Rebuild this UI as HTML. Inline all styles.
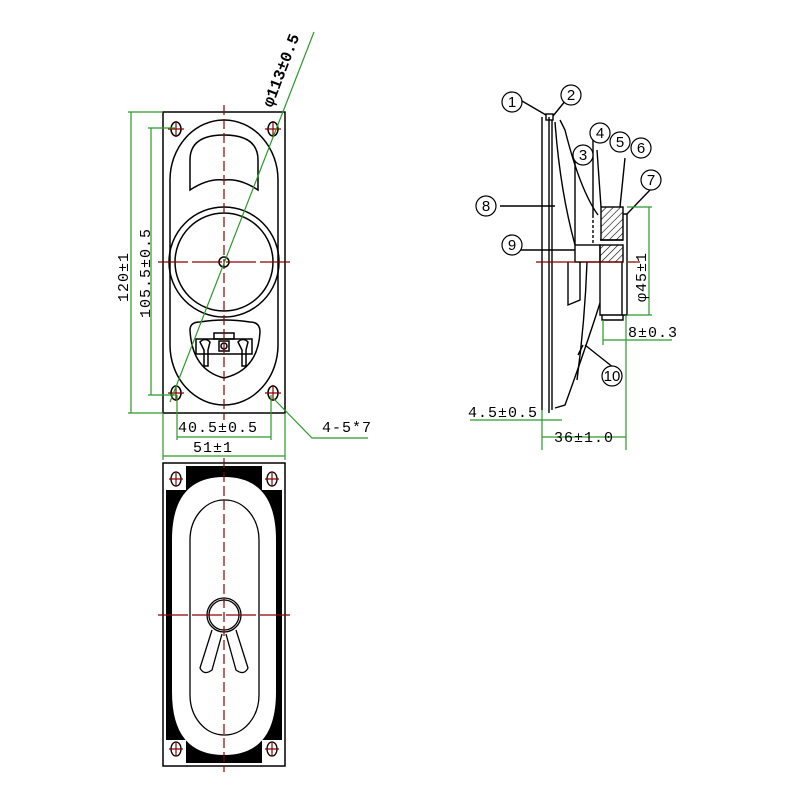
<!DOCTYPE html>
<html><head><style>html,body{margin:0;padding:0;background:#fff}svg{display:block}</style></head>
<body>
<svg width="800" height="800" viewBox="0 0 800 800" xmlns="http://www.w3.org/2000/svg" font-family="Liberation Mono, monospace">
<defs>
<pattern id="h" width="5" height="5" patternUnits="userSpaceOnUse" patternTransform="rotate(45)"><line x1="0" y1="0" x2="0" y2="5" stroke="#000" stroke-width="1.2"/></pattern>
</defs>
<g fill="none" stroke="#000" stroke-width="1.5">
<rect x="163" y="112" width="122" height="301"/>
<rect x="170" y="120" width="108" height="285" rx="54" ry="60"/>
<path d="M190 190 L190 160 Q190 135 224 135 Q258 135 258 160 L258 190 Q240 178 224 180 Q208 178 190 190 Z"/>
<circle cx="224" cy="262" r="55"/>
<circle cx="224" cy="262" r="49"/>
<circle cx="224" cy="262" r="5"/>
<path d="M190 330 Q190 322 200 322 Q224 318 250 322 Q260 322 260 332 Q258 370 224 378 Q192 370 190 330 Z"/>
<rect x="196" y="339" width="56" height="15"/>
<rect x="214" y="333" width="20" height="6"/>
<rect x="219" y="341" width="10" height="10"/>
<circle cx="224" cy="346" r="3"/>
<path d="M200 342 Q205 337 210 342 L208 350 L208 366 L204 366 L204 350 Z"/>
<path d="M238 342 Q243 337 248 342 L246 350 L246 366 L242 366 L242 350 Z"/>
<ellipse cx="176" cy="129" rx="5" ry="7"/><ellipse cx="273" cy="129" rx="5" ry="7"/>
<ellipse cx="176" cy="393" rx="5" ry="7"/><ellipse cx="273" cy="393" rx="5" ry="7"/>
</g>
<g stroke="#8b0000" stroke-width="1.2" fill="none">
<line x1="224" y1="105" x2="224" y2="420" stroke-dasharray="10,4"/>
<line x1="158" y1="262" x2="292" y2="262" stroke-dasharray="30,4"/>
<path d="M168 129h16M176 121v16M265 129h16M273 121v16M168 393h16M176 385v16M265 393h16M273 385v16"/>
</g>
<g stroke="#2a9a2a" stroke-width="1.2" fill="none">
<path d="M128 112H163M128 413H163M131 112V413"/>
<path d="M148 128H176M148 395H176M151 128V395"/>
<path d="M177 395V440M271 395V440M177 437H271"/>
<path d="M163 413V460M285 413V460M163 456H285"/>
<line x1="170" y1="402" x2="314" y2="32"/>
<path d="M273 398 L312 438 H368"/>
</g>
<g font-size="15" fill="#000">
<text x="0" y="0" transform="translate(128 302) rotate(-90)" letter-spacing="1">120±1</text>
<text x="0" y="0" transform="translate(150 318) rotate(-90)" letter-spacing="1">105.5±0.5</text>
<text x="178" y="432" letter-spacing="1">40.5±0.5</text>
<text x="193" y="452" letter-spacing="1">51±1</text>
<text x="322" y="432" letter-spacing="1">4-5*7</text>
<text x="0" y="0" transform="translate(272 108) rotate(-69)" font-weight="bold" font-size="16">φ113±0.5</text>
</g>
<rect x="163" y="463" width="122" height="303" fill="none" stroke="#000" stroke-width="1.5"/>
<path fill="#000" fill-rule="evenodd" d="M186 466H262V490H282V740H262V763H186V740H166V490H186Z M172 540 Q172 477 224 477 Q276 477 276 540 V692 Q276 755 224 755 Q172 755 172 692 Z"/>
<g fill="none" stroke="#000" stroke-width="1.3">
<rect x="190" y="500" width="69" height="235" rx="34" ry="40"/>
<circle cx="224" cy="615" r="17"/><circle cx="224" cy="615" r="15"/>
<path d="M212 630 L200 668 Q204 676 212 670 L222 634"/>
<path d="M236 630 L248 668 Q244 676 236 670 L226 634"/>
<ellipse cx="176" cy="479" rx="5" ry="7" fill="#fff"/><ellipse cx="272" cy="479" rx="5" ry="7" fill="#fff"/>
<ellipse cx="176" cy="749" rx="5" ry="7" fill="#fff"/><ellipse cx="272" cy="749" rx="5" ry="7" fill="#fff"/>
</g>
<g stroke="#8b0000" stroke-width="1.2" fill="none">
<line x1="224" y1="458" x2="224" y2="772" stroke-dasharray="10,4"/>
<line x1="158" y1="615" x2="292" y2="615" stroke-dasharray="30,4"/>
<path d="M169 479h14M176 472v14M265 479h14M272 472v14M169 749h14M176 742v14M265 749h14M272 742v14"/>
</g>
<g fill="none" stroke="#000" stroke-width="1.4">
<path d="M542 117V410M549 117V413M552 120V410"/>
<rect x="546" y="114" width="7" height="6"/>
<path d="M555 122 Q560 190 575 245"/>
<path d="M560 120 L565 130 Q580 190 598 215"/>
<path d="M555 408 L565 405 Q585 350 600 303"/>
<path d="M578 355 L583 345"/>
<rect x="575" y="245" width="25" height="17"/>
<path d="M568 262V305L580 300V262"/>
<path d="M587 262 Q585 320 577 380"/>
<rect x="601" y="207" width="22" height="33" fill="url(#h)"/>
<path d="M623 214H627V262"/>
<rect x="600" y="245" width="23" height="17" fill="url(#h)"/>
<path d="M600 240H623M600 262V315H627V262M622 262V315M602 315V320H623V315"/>
<path d="M593 215 V245" stroke-dasharray="3,2"/>
<path d="M575 160V245M593 140V215M597 150L601 207M625 158L620 207M650 190L627 214M500 206H555M520 250L575 250M614 368L585 345M522 101L546 115M566 100L553 116"/>
</g>
<line x1="536" y1="262" x2="640" y2="262" stroke="#8b0000" stroke-width="1.2" stroke-dasharray="40,6"/>
<g stroke="#2a9a2a" stroke-width="1.2" fill="none">
<path d="M627 207H652M627 315H652M649 207V315"/>
<path d="M603 320V345M626 315V450M603 340H672"/>
<path d="M542 410V450M542 437H626"/>
<path d="M470 420H562"/>
</g>
<g fill="#fff" stroke="#000" stroke-width="1.2">
<circle cx="512" cy="102" r="10"/><circle cx="571" cy="95" r="10"/><circle cx="583" cy="155" r="10"/>
<circle cx="600" cy="133" r="10"/><circle cx="620" cy="142" r="10"/><circle cx="641" cy="148" r="10"/>
<circle cx="651" cy="180" r="10"/><circle cx="486" cy="206" r="10"/><circle cx="512" cy="245" r="10"/>
<circle cx="612" cy="376" r="10"/>
</g>
<g font-size="15" fill="#000" text-anchor="middle" font-family="Liberation Sans, sans-serif">
<text x="512" y="107">1</text><text x="571" y="100">2</text><text x="583" y="160">3</text>
<text x="600" y="138">4</text><text x="620" y="147">5</text><text x="641" y="153">6</text>
<text x="651" y="185">7</text><text x="486" y="211">8</text><text x="512" y="250">9</text>
<text x="612" y="381">10</text>
</g>
<g font-size="15" fill="#000">
<text x="0" y="0" transform="translate(646 302) rotate(-90)" letter-spacing="1">φ45±1</text>
<text x="628" y="337" letter-spacing="1">8±0.3</text>
<text x="468" y="417" letter-spacing="1">4.5±0.5</text>
<text x="554" y="442" letter-spacing="1">36±1.0</text>
</g>
</svg>
</body></html>
